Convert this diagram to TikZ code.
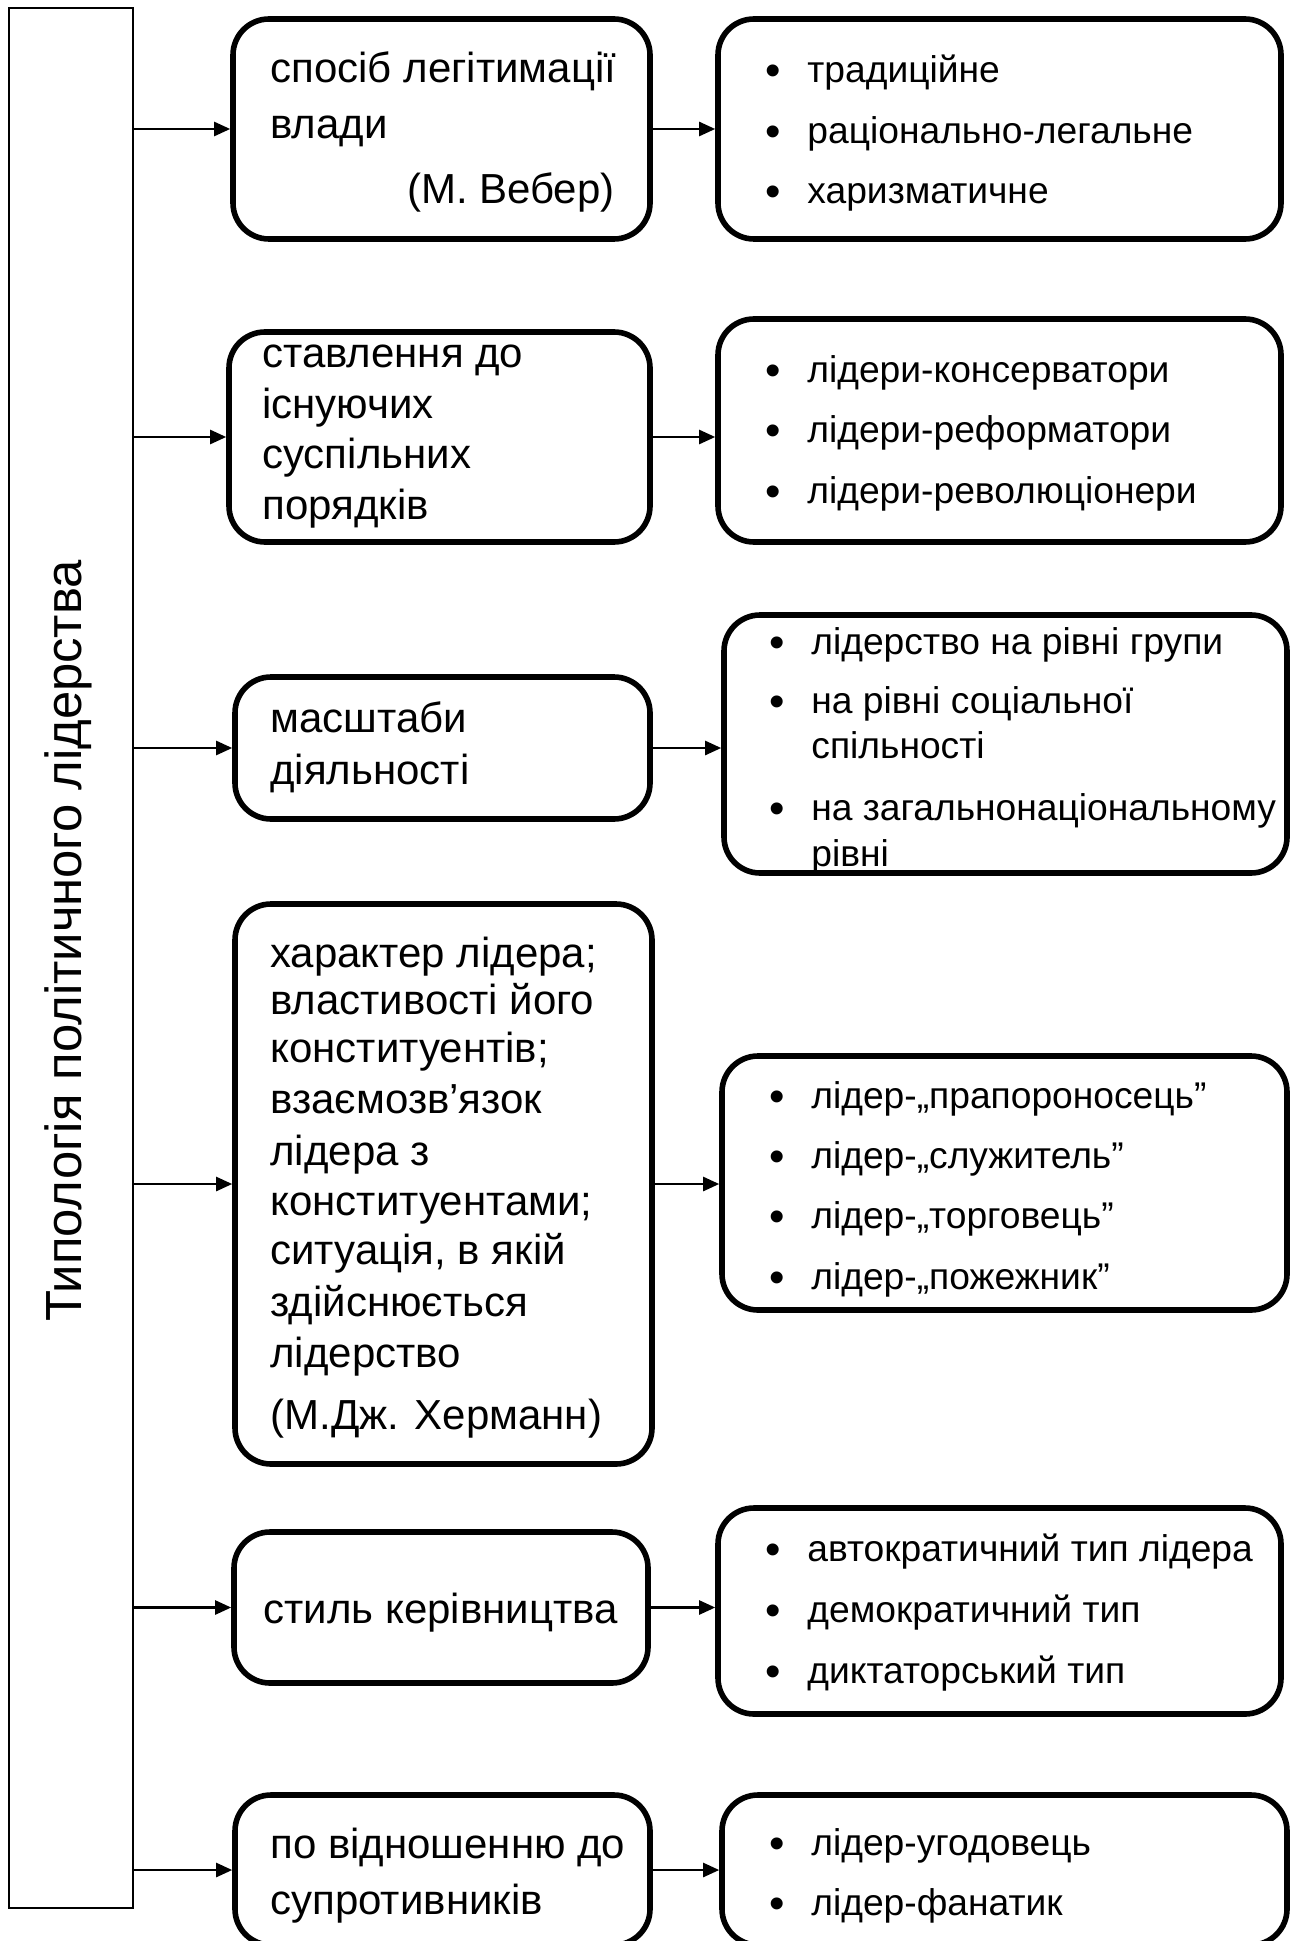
\documentclass[tikz,border=0pt]{standalone}
\usepackage{fontspec}
\setmainfont{Liberation Sans}
\usetikzlibrary{arrows.meta,fit}
\newcommand{\itm}[1]{\makebox[21pt][l]{\raisebox{-1.8pt}{\fontsize{22}{22}\selectfont •}}#1}
\newcommand{\noitm}[1]{\hspace*{21pt}#1}
\begin{document}
\begin{tikzpicture}[x=0.5pt,y=-0.5pt,
  boxst/.style={draw,line width=2.8pt,rounded corners=18pt,inner sep=0pt},
  framest/.style={draw,line width=1.4pt,inner sep=0pt},
  txt/.style={anchor=mid west,inner sep=0pt,font=\fontsize{21}{25}\selectfont},
  txtr/.style={anchor=mid east,inner sep=0pt,font=\fontsize{21}{25}\selectfont},
  rtxt/.style={anchor=mid west,inner sep=0pt,font=\fontsize{18.6}{22}\selectfont},
  arr/.style={line width=1.2pt,-{Triangle[length=8pt,width=7pt]}}]
\useasboundingbox (0,0) rectangle (1296,1941);
\clip (0,0) rectangle (1296,1941);

% main frame
\node[framest,fit={(9,8) (133,1908)}] (T) {};
\node[rotate=90,anchor=mid,inner sep=0pt,font=\fontsize{25.4}{30}\selectfont] (title) at (76,941) {Типологія політичного лідерства};

% left boxes
\node[boxst,fit={(233,19) (650,239)}] (L1) {};
\node[boxst,fit={(229,332) (650,542)}] (L2) {};
\node[boxst,fit={(235,677) (650,819)}] (L3) {};
\node[boxst,fit={(235,904) (652,1464)}] (L4) {};
\node[boxst,fit={(234,1532) (648,1683)}] (L5) {};
\node[boxst,fit={(235,1795) (650,1945)}] (L6) {};

% right boxes
\node[boxst,fit={(718,19) (1281,239)}] (R1) {};
\node[boxst,fit={(718,319) (1281,542)}] (R2) {};
\node[boxst,fit={(724,615) (1287,873)}] (R3) {};
\node[boxst,fit={(722,1056) (1287,1310)}] (R4) {};
\node[boxst,fit={(718,1508) (1281,1714)}] (R5) {};
\node[boxst,fit={(722,1795) (1287,1945)}] (R6) {};

% arrows
\foreach \i in {1,...,6}{
  \draw[arr] (T.east |- L\i.west) -- (L\i.west);
  \draw[arr] (L\i.east) -- (R\i.west |- L\i.east);
}

% left texts
\node[txt] (l1a) at (270,77) {спосіб легітимації};
\node[txt] (l1b) at (270,133) {влади};
\node[txtr] (l1c) at (615,198) {(М. Вебер)};

\node[txt] (l2a) at (262,362) {ставлення до};
\node[txt] (l2b) at (262,413) {існуючих};
\node[txt] (l2c) at (262,463) {суспільних};
\node[txt] (l2d) at (262,514) {порядків};

\node[txt] (l3a) at (270,727) {масштаби};
\node[txt] (l3b) at (270,779) {діяльності};

\node[txt] (l4a) at (270,962) {характер лідера;};
\node[txt] (l4b) at (270,1009) {властивості його};
\node[txt] (l4c) at (270,1057) {конституентів;};
\node[txt] (l4d) at (270,1108) {взаємозв’язок};
\node[txt] (l4e) at (270,1160) {лідера з};
\node[txt] (l4f) at (270,1210) {конституентами;};
\node[txt] (l4g) at (270,1259) {ситуація, в якій};
\node[txt] (l4h) at (270,1311) {здійснюється};
\node[txt] (l4i) at (270,1362) {лідерство};
\node[txt] (l4j) at (270,1424) {(М.Дж. Херманн)};

\node[txt] (l5a) at (263,1618) {стиль керівництва};

\node[txt] (l6a) at (270,1853) {по відношенню до};
\node[txt] (l6b) at (270,1909) {супротивників};

% right texts
\node[rtxt] (r1a) at (765,77) {\itm{традиційне}};
\node[rtxt] (r1b) at (765,138) {\itm{раціонально-легальне}};
\node[rtxt] (r1c) at (765,198) {\itm{харизматичне}};

\node[rtxt] (r2a) at (765,377) {\itm{лідери-консерватори}};
\node[rtxt] (r2b) at (765,437) {\itm{лідери-реформатори}};
\node[rtxt] (r2c) at (765,498) {\itm{лідери-революціонери}};

\node[rtxt] (r3a) at (769,649) {\itm{лідерство на рівні групи}};
\node[rtxt] (r3b) at (769,708) {\itm{на рівні соціальної}};
\node[rtxt] (r3c) at (769,753) {\noitm{спільності}};
\node[rtxt] (r3d) at (769,815) {\itm{на загальнонаціональному}};
\node[rtxt] (r3e) at (769,861) {\noitm{рівні}};

\node[rtxt] (r4a) at (769,1103) {\itm{лідер-„прапороносець”}};
\node[rtxt] (r4b) at (769,1163) {\itm{лідер-„служитель”}};
\node[rtxt] (r4c) at (769,1223) {\itm{лідер-„торговець”}};
\node[rtxt] (r4d) at (769,1284) {\itm{лідер-„пожежник”}};

\node[rtxt] (r5a) at (765,1556) {\itm{автократичний тип лідера}};
\node[rtxt] (r5b) at (765,1617) {\itm{демократичний тип}};
\node[rtxt] (r5c) at (765,1678) {\itm{диктаторський тип}};

\node[rtxt] (r6a) at (769,1850) {\itm{лідер-угодовець}};
\node[rtxt] (r6b) at (769,1910) {\itm{лідер-фанатик}};
\end{tikzpicture}
\end{document}
